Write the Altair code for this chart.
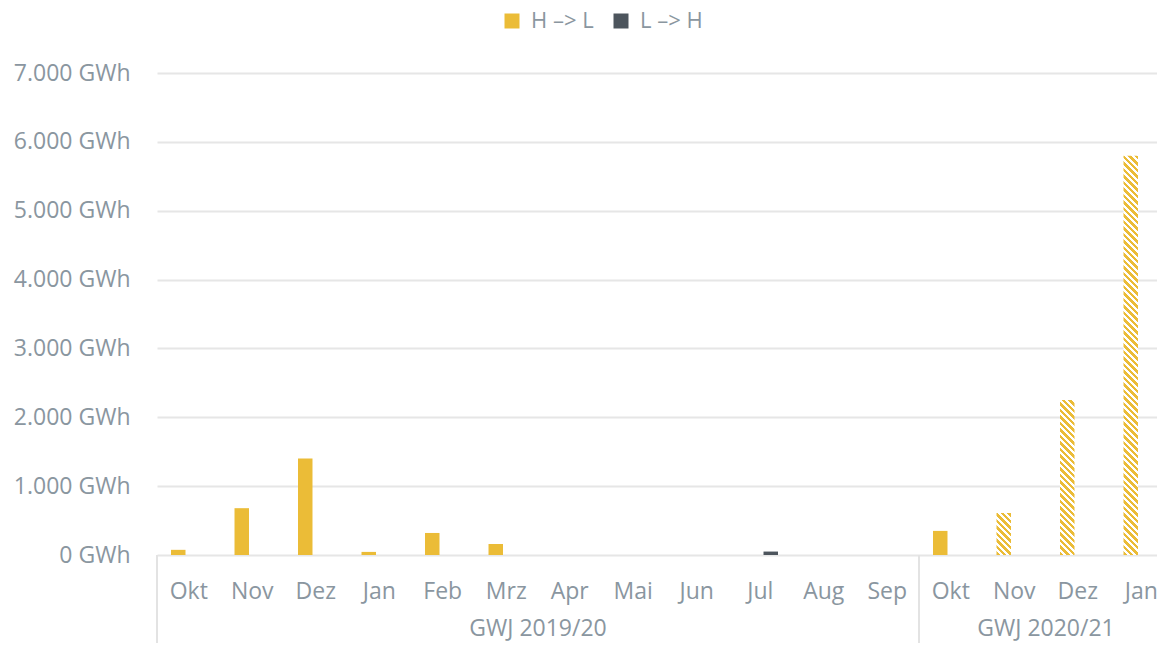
import altair as alt
import pandas as pd

# ---- data ----
months = ["Okt", "Nov", "Dez", "Jan", "Feb", "Mrz", "Apr", "Mai", "Jun",
          "Jul", "Aug", "Sep", "Okt", "Nov", "Dez", "Jan"]
years = ["GWJ 2019/20"] * 12 + ["GWJ 2020/21"] * 4
h_to_l = [75, 680, 1400, 45, 320, 160, 0, 0, 0, 0, 0, 0, 350, 610, 2250, 5800]
l_to_h = [0, 0, 0, 0, 0, 0, 0, 0, 0, 50, 0, 0, 0, 0, 0, 0]
hatched = [False] * 13 + [True] * 3
series = ["H –> L", "L –> H"]
colors = ["#EBBC37", "#4D555D"]
y_ticks = [0, 1000, 2000, 3000, 4000, 5000, 6000, 7000]

# ---- layout / style ----
PLOT_W = 1000          # visible plot width (reference is cropped at the right)
X_RANGE = 1016         # full category range, partly beyond the right edge
PLOT_H = 482
Y_MAX = 7000
BOTTOM = 88
TEXT = "#8A96A0"
GRID = "#E6E6E6"
FONT = "Open Sans"
PAD_IN, PAD_OUT = 0.31, 0.667
STEP = X_RANGE / len(months)
SUB_STEP = STEP / (len(series) - PAD_IN + 2 * PAD_OUT)
BAR_W = SUB_STEP * (1 - PAD_IN)

keys = [f"{m}|{y}" for m, y in zip(months, years)]

rows = []
for k, v, hch in zip(keys, h_to_l, hatched):
    if v > 0:
        rows.append(dict(key=k, series=series[0], value=v, hatched=hch))
for k, v in zip(keys, l_to_h):
    if v > 0:
        rows.append(dict(key=k, series=series[1], value=v, hatched=False))
df = pd.DataFrame(rows)

x_scale = alt.Scale(domain=keys, range=[0, X_RANGE], paddingInner=0, paddingOuter=0)
off_scale = alt.Scale(domain=series, paddingInner=PAD_IN, paddingOuter=PAD_OUT)
y_scale = alt.Scale(domain=[0, Y_MAX], nice=False)

x_axis = alt.Axis(labelExpr="split(datum.value, '|')[0]", labelAngle=0,
                  ticks=False, tickSize=0, domain=False, grid=False,
                  labelPadding=36, labelBaseline="middle",
                  labelFontSize=23, labelColor=TEXT, labelFont=FONT, title=None)
y_axis = alt.Axis(values=y_ticks,
                  labelExpr="replace(format(datum.value, ',.0f'), ',', '.') + ' GWh'",
                  grid=True, gridColor=GRID, gridWidth=2, domain=False,
                  ticks=False, labelPadding=27, labelFontSize=23,
                  labelColor=TEXT, labelFont=FONT, title=None)

solid = alt.Chart(df[~df["hatched"]]).mark_bar().encode(
    x=alt.X("key:N", scale=x_scale, sort=keys, axis=x_axis),
    xOffset=alt.XOffset("series:N", scale=off_scale),
    y=alt.Y("value:Q", scale=y_scale, axis=y_axis),
    color=alt.Color("series:N", scale=alt.Scale(domain=series, range=colors),
                    legend=alt.Legend(orient="none", legendX=344, legendY=-63,
                                      direction="horizontal", title=None,
                                      symbolType="square", symbolSize=225,
                                      symbolStrokeWidth=0, labelFontSize=22,
                                      labelColor=TEXT, labelFont=FONT,
                                      labelOffset=8, columnPadding=16, padding=0)),
)


def hatch_gradient(value, color):
    h = value / Y_MAX * PLOT_H
    w = BAR_W
    k = (w + h) / (w * w + h * h)
    total = w + h  # diagonal extent, t = s / total
    period, fill_len = 6.5, 3.7
    stops = []
    s = 0.0
    while s < total:
        a = s / total
        b = min(s + fill_len, total) / total
        c = min(s + period, total) / total
        stops += [alt.GradientStop(offset=a, color=color),
                  alt.GradientStop(offset=b, color=color),
                  alt.GradientStop(offset=b, color="#FFFFFF"),
                  alt.GradientStop(offset=c, color="#FFFFFF")]
        s += period
    return alt.LinearGradient(gradient="linear", stops=stops,
                              x1=0, y1=1, x2=k * w, y2=1 - k * h)


hatch_layers = []
for _, r in df[df["hatched"]].iterrows():
    one = pd.DataFrame([r])
    hatch_layers.append(
        alt.Chart(one).mark_bar(fill=hatch_gradient(r["value"], colors[0])).encode(
            x=alt.X("key:N", scale=x_scale, sort=keys, axis=x_axis),
            xOffset=alt.XOffset("series:N", scale=off_scale),
            y=alt.Y("value:Q", scale=y_scale, axis=y_axis),
        )
    )

# group separators and group labels
group_names = []
for y in years:
    if y not in group_names:
        group_names.append(y)
starts = [years.index(g) for g in group_names]
counts = [years.count(g) for g in group_names]
sep_df = pd.DataFrame({"key": [keys[s] for s in starts]})
lab_df = pd.DataFrame({"key": [keys[s + n // 2 - 1] for s, n in zip(starts, counts)],
                       "label": group_names})

seps = alt.Chart(sep_df).mark_rule(color="#E3E3E3", strokeWidth=2).encode(
    x=alt.X("key:N", scale=x_scale, sort=keys, axis=x_axis, bandPosition=0),
    y=alt.value(PLOT_H),
    y2=alt.value(PLOT_H + BOTTOM),
)

labels = alt.Chart(lab_df).mark_text(fontSize=23, color=TEXT, font=FONT,
                                     baseline="middle", align="center").encode(
    x=alt.X("key:N", scale=x_scale, sort=keys, axis=x_axis, bandPosition=1),
    y=alt.value(PLOT_H + 74),
    text="label:N",
)

chart = alt.layer(solid, *hatch_layers, seps, labels).properties(
    width=PLOT_W, height=PLOT_H,
    autosize=alt.AutoSizeParams(type="none"),
    padding={"left": 149, "top": 65, "right": 0, "bottom": BOTTOM},
).configure_view(stroke=None)

chart.save("out.html", embed_options={"renderer": "svg", "actions": False})
